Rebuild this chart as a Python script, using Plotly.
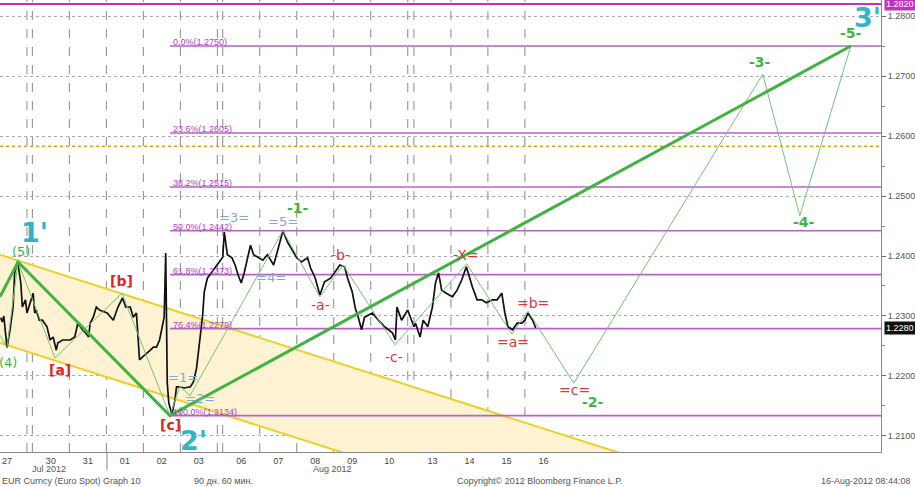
import plotly.graph_objects as go

# ---------------- data ----------------
# x axis unit: trading hours counted from the Fri 27-Jul session end (weekends compressed)
day_bounds = [0, 3.5, 27.5, 51.5, 75.5, 99.5, 123.5, 127, 151, 175, 199, 223, 247, 251, 275, 299, 323]
day_centers = [-13, 15.5, 39.5, 63.5, 87.5, 111.5, 139, 163, 187, 211, 235, 263, 287, 311, 335]
day_labels = ["27", "30", "31", "01", "02", "03", "06", "07", "08", "09", "10", "13", "14", "15", "16"]
month_labels = ["Jul 2012", "Aug 2012"]
month_label_x = [14, 198]
month_sep_x = 51.9

price_hours = [-17, -16, -15, -14, -13, -11, -9, -8, -6, -4, -3, -1, 0, 4, 5, 6, 8, 10, 13, 15,
               17, 19, 20, 23, 28, 31, 33, 36, 38, 40, 41, 43, 45, 47, 52, 56, 59, 62, 64, 67,
               69, 71, 72, 73, 75, 78, 80, 82, 84, 86, 88, 89, 90, 91, 92, 94, 96, 97, 99, 102,
               106, 108, 110, 112, 113, 114, 115, 117, 120, 123, 127, 128, 130, 133, 135, 137, 139, 141, 145, 147,
               150, 153, 156, 160, 163, 166, 169, 172, 175, 178, 182, 184, 187, 190, 193, 197, 200, 203, 206, 208,
               211, 213, 215, 217, 219, 224, 228, 232, 237, 239, 240, 243, 247, 251, 252, 255, 257, 260, 263, 265,
               267, 269, 272, 276, 279, 282, 285, 287, 289, 292, 295, 298, 302, 305, 308, 310, 312, 315, 318, 321,
               323, 325, 328, 330]
price_close = [1.2297, 1.2290, 1.2300, 1.2277, 1.2247, 1.2277, 1.2315, 1.2372, 1.2390, 1.2355,
               1.2315, 1.2327, 1.2305, 1.2338, 1.2305, 1.2310, 1.2293, 1.2293, 1.2282, 1.2260,
               1.2265, 1.2243, 1.2255, 1.2260, 1.2260, 1.2265, 1.2288, 1.2277, 1.2272, 1.2265,
               1.2288, 1.2298, 1.2315, 1.2310, 1.2305, 1.2293, 1.2315, 1.2330, 1.2315, 1.2315,
               1.2298, 1.2305, 1.2260, 1.2227, 1.2232, 1.2238, 1.2243, 1.2248, 1.2248, 1.2260,
               1.2282, 1.2298, 1.2405, 1.2188, 1.2155, 1.2136, 1.2160, 1.2182, 1.2182, 1.2180,
               1.2182, 1.2190, 1.2213, 1.2252, 1.2280, 1.2302, 1.2340, 1.2363, 1.2373, 1.2385,
               1.2398, 1.2440, 1.2402, 1.2397, 1.2385, 1.2368, 1.2355, 1.2373, 1.2418, 1.2402,
               1.2398, 1.2393, 1.2402, 1.2385, 1.2413, 1.2442, 1.2423, 1.2410, 1.2397, 1.2390,
               1.2397, 1.2380, 1.2363, 1.2335, 1.2357, 1.2363, 1.2373, 1.2385, 1.2382, 1.2363,
               1.2340, 1.2313, 1.2297, 1.2277, 1.2298, 1.2305, 1.2293, 1.2282, 1.2272, 1.2260,
               1.2315, 1.2293, 1.2310, 1.2282, 1.2288, 1.2265, 1.2293, 1.2282, 1.2315, 1.2355,
               1.2372, 1.2343, 1.2338, 1.2332, 1.2343, 1.2360, 1.2382, 1.2365, 1.2348, 1.2327,
               1.2327, 1.2322, 1.2327, 1.2327, 1.2338, 1.2305, 1.2282, 1.2277, 1.2288, 1.2288,
               1.2293, 1.2305, 1.2293, 1.2280]
last_price = 1.2280

# Elliott wave paths
wave_thin_x = [-17.5, -13, -5.8, 18.2, 61.6, 92.7, 99.2, 105.7, 166, 190, 205, 238.7, 285.3, 314.5, 325, 354.7, 477.3, 501.3, 534.4]
wave_thin_y = [1.2268, 1.2247, 1.2390, 1.2230, 1.2338, 1.2134, 1.2183, 1.2167, 1.2442, 1.2332, 1.2385, 1.2252, 1.2387, 1.2270, 1.2308, 1.2188, 1.2703, 1.2467, 1.2750]
wave_thick_x = [-17.5, -5.8, 92.7, 534.4]
wave_thick_y = [1.2332, 1.2390, 1.2134, 1.2750]

# falling channel
channel_x = [-17.5, 400]
channel_upper = [1.2402, 1.2059]
channel_lower = [1.2255, 1.1912]

# Fibonacci retracement
fib_start = 92.7
fib_pct = ["0.0%", "23.6%", "38.2%", "50.0%", "61.8%", "76.4%", "100.0%"]
fib_levels = [1.2750, 1.2605, 1.2515, 1.2442, 1.2369, 1.2279, 1.2134]
fib_text = ["1.2750", "1.2605", "1.2515", "1.2442", "1.2373", "1.2279", "1.2134"]

resistance_level = 1.2820
orange_level = 1.2583

# wave labels: (text, x, y)
big_labels = [("1'", 5.2, 1.2440), ("2'", 107.7, 1.2093), ("3'", 545.4, 1.2798)]
green_bold = [("-1-", 175.7, 1.2480), ("-2-", 367, 1.2157), ("-3-", 475.4, 1.2723),
              ("-4-", 503.9, 1.2457), ("-5-", 534.4, 1.2772)]
green_paren = [("(5)", -3.9, 1.2407), ("(4)", -12.3, 1.2223)]
red_bracket = [("[a]", 21.4, 1.2210), ("[b]", 61.6, 1.2358), ("[c]", 93.4, 1.2118)]
red_minor = [("-a-", 190.7, 1.2318), ("-b-", 203.6, 1.2402), ("-c-", 238, 1.2232),
             ("-X=", 284.7, 1.2402), ("=a=", 315.2, 1.2257), ("=b=", 328.1, 1.2322),
             ("=c=", 355.4, 1.2177)]
blue_minor = [("=1=", 101.2, 1.2197), ("=2=", 112.2, 1.2163), ("=3=", 134.2, 1.2465),
              ("=4=", 158.2, 1.2365), ("=5=", 166, 1.2458)]

x_range = [-17.5, 554]
y_range = [1.20733, 1.28267]

# ---------------- figure ----------------
GREEN = "#3fb33f"
THIN_GREEN = "#74c274"
TEAL = "#35b3c6"
RED = "#e02424"
RED2 = "#d83a3a"
BLUE = "#7ea8da"
FIB = "#b862c6"
YELLOW = "#ecd02a"
FONT = "Liberation Sans"

fig = go.Figure()

# channel fill
fig.add_trace(go.Scatter(x=channel_x, y=channel_lower, mode="lines",
                         line=dict(color=YELLOW, width=2), hoverinfo="skip", showlegend=False))
fig.add_trace(go.Scatter(x=channel_x, y=channel_upper, mode="lines", fill="tonexty",
                         fillcolor="#fdf3d2", line=dict(color=YELLOW, width=2),
                         hoverinfo="skip", showlegend=False))

# horizontal reference lines
fig.add_trace(go.Scatter(x=x_range, y=[resistance_level] * 2, mode="lines",
                         line=dict(color="#c232c2", width=2), showlegend=False))
fig.add_trace(go.Scatter(x=x_range, y=[orange_level] * 2, mode="lines",
                         line=dict(color="#e8a21a", width=1.5, dash="dot"), showlegend=False))
for lvl in fib_levels:
    fig.add_trace(go.Scatter(x=[fib_start, x_range[1]], y=[lvl, lvl], mode="lines",
                             line=dict(color=FIB, width=1.6), showlegend=False))

# price
fig.add_trace(go.Scatter(x=price_hours, y=price_close, mode="lines",
                         line=dict(color="#111111", width=1.7), showlegend=False))

# wave lines
fig.add_trace(go.Scatter(x=wave_thin_x, y=wave_thin_y, mode="lines",
                         line=dict(color=THIN_GREEN, width=1), showlegend=False))
fig.add_trace(go.Scatter(x=wave_thick_x, y=wave_thick_y, mode="lines",
                         line=dict(color=GREEN, width=3), showlegend=False))

annotations = []


def add_label(text, x, y, color, size, family=FONT, bold=False):
    t = f"<b>{text}</b>" if bold else text
    annotations.append(dict(x=x, y=y, xref="x", yref="y", text=t, showarrow=False,
                            font=dict(color=color, size=size, family=family),
                            xanchor="center", yanchor="middle"))


for t, x, y in big_labels:
    add_label(t, x, y, TEAL, 27, family="DejaVu Sans", bold=True)
for t, x, y in green_bold:
    add_label(t, x, y, GREEN, 14, family="DejaVu Sans", bold=True)
for t, x, y in green_paren:
    add_label(t, x, y, GREEN, 13, family="DejaVu Sans")
for t, x, y in red_bracket:
    add_label(t, x, y, RED, 14, family="DejaVu Sans", bold=True)
for t, x, y in red_minor:
    add_label(t, x, y, RED2, 14, family="DejaVu Sans")
for t, x, y in blue_minor:
    add_label(t, x, y, BLUE, 13, family="DejaVu Sans")

for p, lvl, txt in zip(fib_pct, fib_levels, fib_text):
    annotations.append(dict(x=fib_start, y=lvl, xref="x", yref="y", text=f"{p}({txt})",
                            showarrow=False, xanchor="left", yanchor="bottom", yshift=-3, xshift=1,
                            font=dict(color="#b040c0", size=9, family=FONT)))

# right axis boxes
annotations.append(dict(x=1, y=resistance_level, xref="paper", yref="y", text="1.2820",
                        showarrow=False, xanchor="left", yanchor="middle", xshift=3,
                        bgcolor="#c232c2", borderpad=1,
                        font=dict(color="white", size=9, family=FONT)))
annotations.append(dict(x=1, y=last_price, xref="paper", yref="y", text=f"{last_price:.4f}",
                        showarrow=False, xanchor="left", yanchor="middle", xshift=3,
                        bgcolor="#111111", borderpad=1,
                        font=dict(color="white", size=9, family=FONT)))

# month labels
for t, x in zip(month_labels, month_label_x):
    annotations.append(dict(x=x, y=-0.038, xref="x", yref="paper", text=t, showarrow=False,
                            xanchor="center", yanchor="middle",
                            font=dict(color="#555555", size=9, family=FONT)))

# footer
footer = [("EUR Curncy (Euro Spot) Graph 10", 0.0, "left"),
          ("90 дн. 60 мин.", 0.218, "left"),
          ("Copyright© 2012 Bloomberg Finance L.P.", 0.5165, "left"),
          ("16-Aug-2012 08:44:08", 1.036, "right")]
for t, x, anc in footer:
    annotations.append(dict(x=x, y=-0.064, xref="paper", yref="paper", text=t, showarrow=False,
                            xanchor=anc, yanchor="middle",
                            font=dict(color="#555555", size=9, family=FONT)))

shapes = []
for b in day_bounds:
    shapes.append(dict(type="line", x0=b, x1=b, y0=0, y1=1, xref="x", yref="paper",
                       line=dict(color="#8a8a8a", width=1, dash="dash"), layer="below"))
shapes.append(dict(type="line", x0=month_sep_x, x1=month_sep_x, y0=0, y1=-0.04, xref="x", yref="paper",
                   line=dict(color="#888888", width=1)))

fig.update_layout(
    width=915, height=487,
    margin=dict(l=0, r=34, t=0, b=35),
    paper_bgcolor="white", plot_bgcolor="white",
    showlegend=False,
    annotations=annotations, shapes=shapes,
    xaxis=dict(range=x_range, tickmode="array", tickvals=day_centers, ticktext=day_labels,
               showgrid=False, zeroline=False, showline=True, linecolor="#888888",
               ticks="", tickfont=dict(size=9, color="#444444", family=FONT)),
    yaxis=dict(range=y_range, side="right", tick0=1.21, dtick=0.01, tickformat=".4f",
               showgrid=True, gridcolor="#aaaaaa", griddash="dot", gridwidth=1,
               zeroline=False, showline=True, linecolor="#888888",
               ticks="outside", ticklen=4, tickcolor="#666666",
               minor=dict(dtick=0.005, ticks="outside", ticklen=3, tickcolor="#888888"),
               tickfont=dict(size=9, color="#555555", family=FONT)),
)

fig.write_html("out.html", config={"displayModeBar": False},
               post_script="document.body.style.margin='0';document.body.style.overflow='hidden';")
